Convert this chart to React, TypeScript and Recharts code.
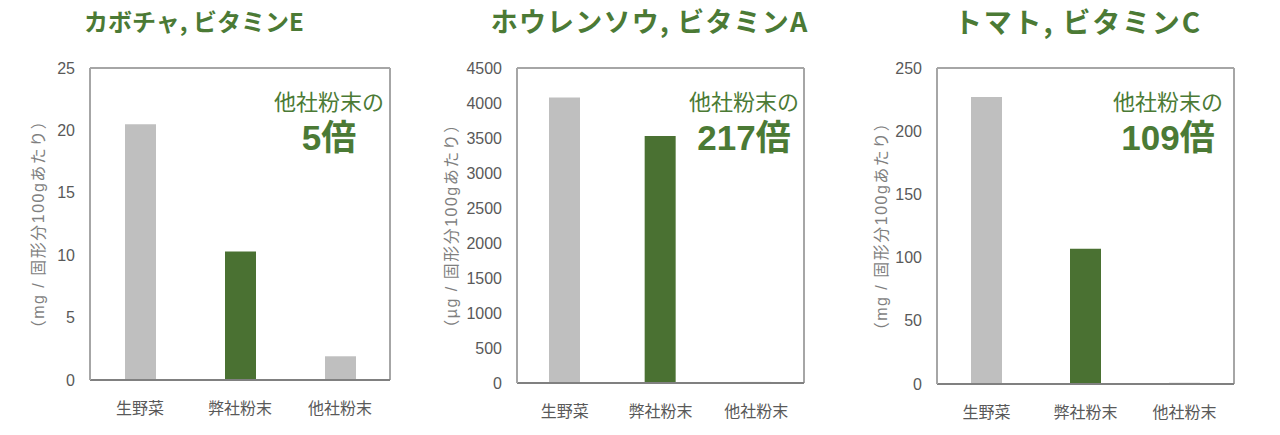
import React from 'react';
import { Bar, BarChart, CartesianGrid, Cell, XAxis, YAxis } from 'recharts';

const categories = ['生野菜', '弊社粉末', '他社粉末'];

const pumpkinValues = [20.5, 10.3, 1.9];
const spinachValues = [4080, 3530, 16];
const tomatoValues = [227, 107, 1];

const pumpkinTicks = [0, 5, 10, 15, 20, 25];
const spinachTicks = [0, 500, 1000, 1500, 2000, 2500, 3000, 3500, 4000, 4500];
const tomatoTicks = [0, 50, 100, 150, 200, 250];

const titles = ['カボチャ, ビタミンE', 'ホウレンソウ, ビタミンA', 'トマト, ビタミンC'];
const units = ['（mg / 固形分100gあたり）', '（µg / 固形分100gあたり）', '（mg / 固形分100gあたり）'];
const ratios = ['5倍', '217倍', '109倍'];

const GREEN = '#4a7132';
const TEXT_GREEN = '#4b7a35';
const GRAY_BAR = '#bfbfbf';
const LATIN = "'Liberation Sans', Arial, 'Noto Sans CJK JP', sans-serif";
const CJK = "'Noto Sans CJK JP', 'Noto Sans', sans-serif";

interface IPanel {
  left: number;
  width: number;
  plotLeft: number;
  plotRight: number;
  plotBottom: number;
  labelX: number;
  titleX: number;
  titleSize: number;
  titleSpacing: number;
  noteX: number;
  values: number[];
  ticks: number[];
  title: string;
  unit: string;
  ratio: string;
}

// frame: top and right edges of the plot box
const topEdge = (props: any) => [props.offset.top];
const rightEdge = (props: any) => [props.offset.left + props.offset.width];

const Panel = (p: IPanel) => {
  const data = categories.map((name, i) => ({ name, value: p.values[i] }));
  const max = p.ticks[p.ticks.length - 1];

  return (
    <div style={{ position: 'absolute', left: p.left, top: 0, width: p.width, height: 435 }}>
      <div
        style={{
          position: 'absolute', left: p.titleX - p.left - 200, width: 400, top: 5, textAlign: 'center',
          fontFamily: CJK, fontWeight: 700, fontSize: p.titleSize, lineHeight: '32px', color: TEXT_GREEN,
          letterSpacing: p.titleSpacing, paddingLeft: p.titleSpacing, boxSizing: 'border-box'
        }}
      >
        {p.title}
      </div>
      <BarChart
        width={p.width}
        height={435}
        data={data}
        margin={{ top: 68, right: p.width - (p.plotRight - p.left), bottom: 0, left: 0 }}
      >
        <CartesianGrid
          stroke='#a6a6a6'
          strokeWidth={2}
          horizontalCoordinatesGenerator={topEdge}
          verticalCoordinatesGenerator={rightEdge}
        />
        <XAxis
          dataKey='name'
          height={435 - p.plotBottom}
          axisLine={{ stroke: '#808080', strokeWidth: 2 }}
          tickLine={false}
          tickSize={0}
          tickMargin={23}
          tick={{ fill: '#595959', fontSize: 16, fontFamily: CJK }}
        />
        <YAxis
          width={p.plotLeft - p.left}
          domain={[0, max]}
          ticks={p.ticks}
          interval={0}
          axisLine={{ stroke: '#a6a6a6', strokeWidth: 2 }}
          tickLine={false}
          tickSize={0}
          tickMargin={15}
          tick={{ fill: '#595959', fontSize: 16, fontFamily: LATIN }}
          label={{
            value: p.unit,
            angle: -90,
            position: 'insideLeft',
            offset: p.labelX - p.left + 3,
            style: { textAnchor: 'middle', fill: '#7f7f7f', fontSize: 16, letterSpacing: 1.5, fontFamily: LATIN }
          }}
        />
        <Bar dataKey='value' barSize={31} isAnimationActive={false}>
          {data.map((d, i) => (
            <Cell key={d.name} fill={i === 1 ? GREEN : GRAY_BAR} />
          ))}
        </Bar>
      </BarChart>
      <div
        style={{
          position: 'absolute', left: p.noteX - p.left - 100, width: 200, top: 90, textAlign: 'center',
          fontFamily: LATIN, fontSize: 22, lineHeight: '26px', color: TEXT_GREEN
        }}
      >
        他社粉末の
        <br />
        <span style={{ fontWeight: 700, fontSize: 35, lineHeight: '44px' }}>{p.ratio}</span>
      </div>
    </div>
  );
};

export default function App() {
  return (
    <div style={{ position: 'absolute', left: 0, top: 0, width: 1280, height: 435, background: '#fff' }}>
      <Panel left={0} width={420} plotLeft={90} plotRight={390} plotBottom={380} labelX={35} titleX={194} titleSize={24}
        titleSpacing={0} noteX={329} values={pumpkinValues} ticks={pumpkinTicks} title={titles[0]} unit={units[0]} ratio={ratios[0]} />
      <Panel left={420} width={420} plotLeft={517} plotRight={804} plotBottom={383} labelX={448} titleX={649} titleSize={27}
        titleSpacing={1.2} noteX={744} values={spinachValues} ticks={spinachTicks} title={titles[1]} unit={units[1]} ratio={ratios[1]} />
      <Panel left={840} width={440} plotLeft={937} plotRight={1234} plotBottom={384} labelX={878} titleX={1077} titleSize={28}
        titleSpacing={1.8} noteX={1168} values={tomatoValues} ticks={tomatoTicks} title={titles[2]} unit={units[2]} ratio={ratios[2]} />
    </div>
  );
}
